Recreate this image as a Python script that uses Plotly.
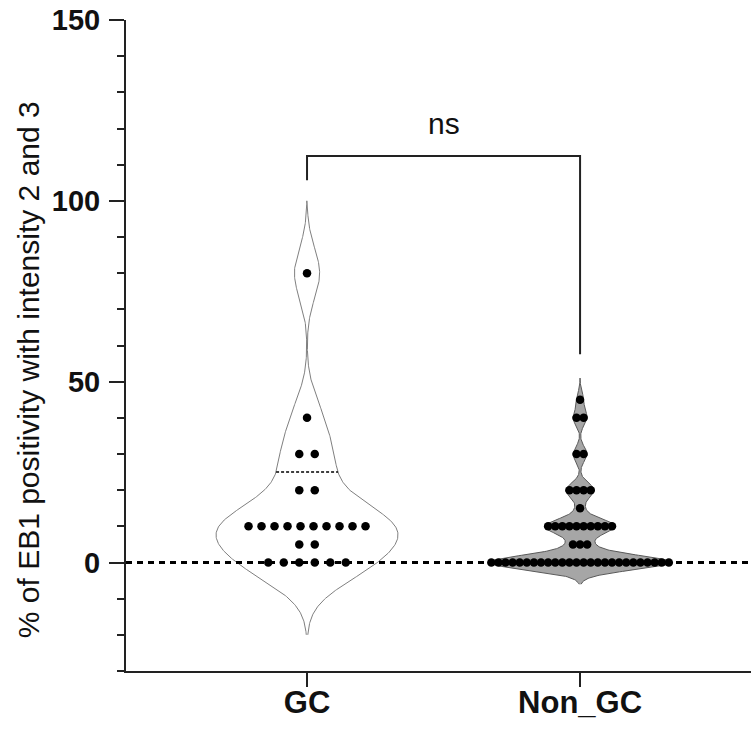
import numpy as np
import plotly.graph_objects as go

# ---------------- data ----------------
categories = ["GC", "Non_GC"]
gc_values = [0, 0, 0, 0, 0, 0,
             5, 5,
             10, 10, 10, 10, 10, 10, 10, 10, 10, 10,
             20, 20,
             30, 30,
             40,
             80]
non_gc_values = [0, 0, 0, 0, 0, 0, 0, 0, 0, 0, 0, 0, 0, 0, 0, 0, 0, 0, 0, 0, 0, 0, 0, 0, 0, 0,
                 5, 5, 5,
                 10, 10, 10, 10, 10, 10, 10, 10, 10, 10,
                 15,
                 20, 20, 20, 20,
                 30, 30,
                 40, 40,
                 45]
gc_q3 = 25            # dashed quartile line visible in the GC violin
y_ticks = [0, 50, 100, 150]
sig_label = "ns"

# ---------------- style / layout constants ----------------
W, H = 751, 729
ML, MR, MT, MB = 126, 0, 20, 58
XMIN, XMAX = -0.663, 1.626
YMIN, YMAX = -30, 150
PX_PER_X = (W - ML - MR) / (XMAX - XMIN)
FONT = "Arial, 'Liberation Sans', sans-serif"

groups = [
    dict(vals=gc_values, bw=6.0, gamma=0.75, span=(-20, 100), fill="white", line="#7f7f7f",
         spacing=15.5, maxrow=117),
    dict(vals=non_gc_values, bw=2.0, gamma=1.0, span=(-6, 51), fill="#a6a6a6", line="#5a5a5a",
         spacing=7.1, maxrow=185),
]
MAX_HALF_PX = 91


def kde(vals, grid, bw):
    v = np.asarray(vals, float)[None, :]
    g = np.asarray(grid, float)[:, None]
    return np.exp(-0.5 * ((g - v) / bw) ** 2).sum(axis=1)


def half_width(g, yv):
    d = kde(g["vals"], yv, g["bw"]) / g["dmax"]
    return d ** g["gamma"] * MAX_HALF_PX / PX_PER_X


fig = go.Figure()

for i, g in enumerate(groups):
    grid = np.linspace(g["span"][0], g["span"][1], 500)
    g["dmax"] = kde(g["vals"], grid, g["bw"]).max()
    half = half_width(g, grid)
    xs = np.concatenate([i + half, (i - half)[::-1]])
    ys = np.concatenate([grid, grid[::-1]])
    fig.add_trace(go.Scatter(x=xs, y=ys, mode="lines", fill="toself",
                             fillcolor=g["fill"], line=dict(color=g["line"], width=1),
                             hoverinfo="skip", showlegend=False))

# quartile dashed line in GC
hq = half_width(groups[0], [gc_q3])[0]
fig.add_trace(go.Scatter(x=[0 - hq, 0 + hq], y=[gc_q3, gc_q3], mode="lines",
                         line=dict(color="black", width=1.5, dash="3px,2px"),
                         hoverinfo="skip", showlegend=False))

# dots (beeswarm rows)
for i, g in enumerate(groups):
    vals = np.asarray(g["vals"], float)
    px, py = [], []
    for u in np.unique(vals):
        n = int((vals == u).sum())
        sp = g["spacing"] if n == 1 else min(g["spacing"], g["maxrow"] / (n - 1))
        offs = (np.arange(n) - (n - 1) / 2) * sp / PX_PER_X
        px.extend(i + offs)
        py.extend([u] * n)
    fig.add_trace(go.Scatter(x=px, y=py, mode="markers",
                             marker=dict(color="black", size=8.5, line=dict(width=0)),
                             hoverinfo="skip", showlegend=False))

# significance bracket
BR_Y, BR_LEFT, BR_RIGHT = 112.4, 105.7, 57.6
fig.add_trace(go.Scatter(x=[0, 0, 1, 1], y=[BR_LEFT, BR_Y, BR_Y, BR_RIGHT], mode="lines",
                         line=dict(color="#222", width=2), hoverinfo="skip", showlegend=False))
fig.add_annotation(x=0.5, y=BR_Y, text=sig_label, showarrow=False, yanchor="bottom",
                   yshift=14, font=dict(family=FONT, size=30, color="#111"))

# zero reference line
fig.add_shape(type="line", xref="paper", x0=0, x1=1, yref="y", y0=0, y1=0,
              line=dict(color="black", width=3, dash="6px,5px"), layer="above")

# y title
fig.add_annotation(xref="paper", yref="paper", x=(28 - ML) / (W - ML - MR), y=0.462,
                   text="% of EB1 positivity with intensity 2 and 3", textangle=-90,
                   showarrow=False, xanchor="center", yanchor="middle",
                   font=dict(family=FONT, size=30, color="#111"))

fig.update_layout(
    width=W, height=H, margin=dict(l=ML, r=MR, t=MT, b=MB, pad=0),
    plot_bgcolor="white", paper_bgcolor="white", showlegend=False,
    xaxis=dict(range=[XMIN, XMAX], tickvals=[0, 1], ticktext=categories,
               showline=True, linecolor="#222", linewidth=2, ticks="outside",
               ticklen=14, tickwidth=2, tickcolor="#222", showgrid=False, zeroline=False,
               ticklabelstandoff=-11,
               tickfont=dict(family=FONT, size=31, color="#111", weight="bold")),
    yaxis=dict(range=[YMIN, YMAX], tickvals=y_ticks, showline=True, linecolor="#222",
               linewidth=2, ticks="outside", ticklen=15, tickwidth=2, tickcolor="#222",
               showgrid=False, zeroline=False, ticklabelstandoff=3,
               minor=dict(dtick=10, tick0=0, ticks="outside", ticklen=7, tickwidth=2,
                          tickcolor="#222", showgrid=False),
               tickfont=dict(family=FONT, size=29, color="#111", weight="bold")),
)

fig.write_html("out.html")
